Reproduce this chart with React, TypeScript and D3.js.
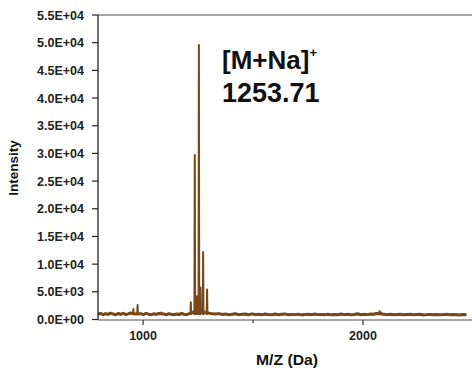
import React from "react";
import * as d3 from "d3";

const W = 472;
const H = 368;

// y-axis ticks
const yTicks = [0, 5000, 10000, 15000, 20000, 25000, 30000, 35000, 40000, 45000, 50000, 55000];
const yTickLabels = ["0.0E+00", "5.0E+03", "1.0E+04", "1.5E+04", "2.0E+04", "2.5E+04", "3.0E+04", "3.5E+04", "4.0E+04", "4.5E+04", "5.0E+04", "5.5E+04"];
const xMajorTicks = [1000, 2000];
const xMinorTicks = [1500];

// baseline (noise) points of the spectrum
const baselineMz = [
  795, 806, 818, 829, 841, 852, 864, 875, 887, 898, 910, 921, 933, 944, 965, 990, 1002, 1013, 1025, 1036,
  1048, 1059, 1071, 1094, 1106, 1117, 1129, 1140, 1152, 1163, 1175, 1186, 1198, 1208,
  1226, 1248, 1267, 1282, 1296,
  1300, 1315, 1330, 1345, 1360, 1375, 1390, 1405, 1420, 1435, 1450, 1465, 1480, 1495, 1510, 1525, 1540, 1555,
  1570, 1585, 1600, 1615, 1630, 1645, 1660, 1675, 1690, 1705, 1720, 1735, 1750, 1765, 1780, 1795, 1810, 1825,
  1840, 1855, 1870, 1885, 1900, 1915, 1930, 1945, 1960, 1975, 1990, 2005, 2020, 2035, 2050, 2060, 2095, 2110,
  2125, 2140, 2155, 2170, 2185, 2200, 2215, 2230, 2245, 2260, 2275, 2290, 2305, 2320, 2335, 2350, 2365, 2380,
  2395, 2410, 2425, 2440, 2455, 2470, 2485, 2500,
];
const baselineIntensity = [
  950, 1100, 880, 1050, 920, 1150, 980, 870, 1080, 940, 1120, 900, 1010, 1180, 1000, 1060, 890, 1100, 960, 850,
  1030, 920, 1090, 980, 870, 1040, 930, 860, 1000, 900, 1080, 950, 870, 1020,
  1300, 1500, 1400, 1300, 1200,
  1150, 1020, 980, 1060, 900, 1010, 870, 960, 1040, 880, 930, 990, 860, 1020, 900, 950, 840, 1000,
  910, 870, 980, 860, 940, 1010, 850, 920, 880, 970, 830, 900, 950, 860, 1000, 880,
  920, 840, 960, 870, 910, 850, 990, 880, 930, 860, 900, 1040, 870, 940, 880, 1000, 950, 1100,
  960, 880, 930, 850, 900, 960, 840, 890, 930, 860, 900, 950, 830, 880, 920, 860, 900, 840,
  880, 930, 850, 900, 870, 820, 910, 860,
];

// peaks
const peakMz = [956, 975, 1083, 1217, 1235, 1244, 1253.71, 1261, 1273, 1291, 2075, 2082];
const peakIntensity = [1900, 2600, 1250, 3100, 29700, 4200, 49600, 5800, 12200, 5400, 1500, 1250];
const peakFoot = 1000;

const FONT = "'Liberation Sans', Arial, Helvetica, sans-serif";
const LINE = "#76481a";

export default function App() {
  const x = d3.scaleLinear().domain([795, 2500]).range([98, 473]);
  const y = d3.scaleLinear().domain([0, 55000]).range([319.5, 15]);

  const pts: [number, number][] = [];
  baselineMz.forEach((m, i) => pts.push([m, baselineIntensity[i]]));
  peakMz.forEach((m, i) => {
    pts.push([m - 1.6, peakFoot]);
    pts.push([m, peakIntensity[i]]);
    pts.push([m + 1.6, peakFoot]);
  });
  pts.sort((a, b) => a[0] - b[0]);

  const line = d3
    .line<[number, number]>()
    .x((d) => x(d[0]))
    .y((d) => y(d[1]));

  const basePts = baselineMz.map((m, i) => [m, baselineIntensity[i]] as [number, number]);

  const left = x(795);
  const right = W;
  const bottom = 320;

  return (
    <svg
      width={W}
      height={H}
      style={{ position: "absolute", left: 0, top: 0, background: "#fff" }}
      fontFamily={FONT}
    >
      {/* top frame */}
      <line x1={left} x2={right} y1={y(55000)} y2={y(55000)} stroke="#8a8a8a" strokeWidth={1.3} />
      {/* spectrum */}
      <path d={line(basePts) || ""} fill="none" stroke={LINE} strokeWidth={3} strokeLinejoin="round" />
      <path d={line(pts) || ""} fill="none" stroke={LINE} strokeWidth={2} strokeLinejoin="round" />
      {/* x axis */}
      <line x1={left} x2={right} y1={bottom} y2={bottom} stroke="#8a8a8a" strokeWidth={1.3} />
      {xMajorTicks.map((t) => (
        <g key={t}>
          <line x1={x(t)} x2={x(t)} y1={bottom} y2={bottom + 5} stroke="#333" strokeWidth={1.2} />
          <text x={x(t)} y={340} textAnchor="middle" fontSize={12.5} fontWeight="bold" fill="#222">
            {t}
          </text>
        </g>
      ))}
      {xMinorTicks.map((t) => (
        <line key={t} x1={x(t)} x2={x(t)} y1={bottom} y2={bottom + 3} stroke="#333" strokeWidth={1.2} />
      ))}
      {/* y axis */}
      <line x1={left} x2={left} y1={y(55000)} y2={bottom} stroke="#222" strokeWidth={1.3} />
      {yTicks.map((t, i) => (
        <g key={t}>
          <line x1={left - 6} x2={left} y1={y(t)} y2={y(t)} stroke="#222" strokeWidth={1.2} />
          <text
            x={84}
            y={y(t) + 4.5}
            textAnchor="end"
            fontSize={12.5}
            fontWeight="bold"
            fill="#222"
            textLength={47}
            lengthAdjust="spacingAndGlyphs"
          >
            {yTickLabels[i]}
          </text>
        </g>
      ))}
      {/* axis titles */}
      <text
        transform="translate(18,168) rotate(-90)"
        textAnchor="middle"
        fontSize={13.5}
        fontWeight="bold"
        fill="#111"
      >
        Intensity
      </text>
      <text
        x={287}
        y={365}
        textAnchor="middle"
        fontSize={14}
        fontWeight="bold"
        fill="#111"
        textLength={62}
        lengthAdjust="spacingAndGlyphs"
      >
        M/Z (Da)
      </text>
      {/* annotation */}
      <text x={222} y={69} fontSize={26} fontWeight="bold" fill="#111">
        [M+Na]
        <tspan fontSize={13} dy={-12}>+</tspan>
      </text>
      <text x={222} y={102} fontSize={27} fontWeight="bold" fill="#111">
        1253.71
      </text>
    </svg>
  );
}
